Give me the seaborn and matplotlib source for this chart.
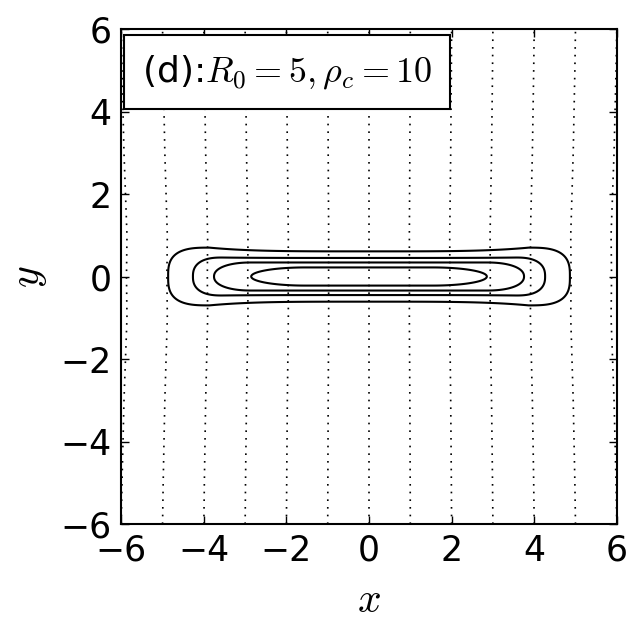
import numpy as np
import matplotlib
matplotlib.use('Agg')
import matplotlib.pyplot as plt
import seaborn as sns

# 相位线（虚点线）：远场位置 x = n，靠近 y=0 处向中心收缩
phase_n = [-6, -5, -4, -3, -2, -1, 0, 1, 2, 3, 4, 5, 6]
phase_y = [-6.0, -5.0, -4.0, -3.0, -2.0, -1.0, 0.0, 1.0, 2.0, 3.0, 4.0, 5.0, 6.0]
phase_squeeze = [0.999, 0.996, 0.992, 0.988, 0.982, 0.976, 0.978, 0.976, 0.982, 0.988, 0.992, 0.996, 0.999]

# 密度等值线（实线）：半长、端部半宽、中部半宽、端部圆角长度、形状指数
cont_halflen = [4.86, 4.26, 3.75, 2.85]
cont_halfw_end = [0.70, 0.46, 0.34, 0.22]
cont_halfw_mid = [0.61, 0.45, 0.34, 0.22]
cont_cap = [1.0, 0.7, 0.9, 1.3]
cont_power = [3.0, 2.5, 2.2, 2.0]

label_text = r'(d):$R_0=5, \rho_c=10$'

sns.set_style('ticks')
plt.rcParams['font.family'] = ['DejaVu Sans']
plt.rcParams['mathtext.fontset'] = 'cm'
for k in ['text.color', 'axes.labelcolor', 'xtick.color', 'ytick.color', 'axes.edgecolor']:
    plt.rcParams[k] = 'black'

fig = plt.figure(figsize=(6.41, 6.28), dpi=100)
ax = fig.add_axes([0.1888, 0.1656, 0.7738, 0.7882])

# 虚点线
for n in phase_n:
    xs = [n * s for s in phase_squeeze]
    sns.lineplot(x=xs, y=phase_y, sort=False, ax=ax, color='k', lw=1.2,
                 linestyle=(0, (1, 3.6)), estimator=None)

# 实线等值线
gx = np.linspace(-6, 6, 1201)
gy = np.linspace(-1.5, 1.5, 601)
X, Y = np.meshgrid(gx, gy)
for a, be, bm, r, p in zip(cont_halflen, cont_halfw_end, cont_halfw_mid, cont_cap, cont_power):
    b = bm + (be - bm) * np.clip(np.abs(X) / (a - r), 0, 1) ** 4
    F = (np.clip(np.abs(X) - (a - r), 0, None) / r) ** p + (np.abs(Y) / b) ** p
    ax.contour(X, Y, F, levels=[1.0], colors='k', linewidths=1.5)

ax.set_xlim(-6, 6)
ax.set_ylim(-6, 6)
ax.set_xticks([-6, -4, -2, 0, 2, 4, 6])
ax.set_yticks([-6, -4, -2, 0, 2, 4, 6])
ax.tick_params(direction='in', top=True, right=True, labelsize=25, length=6, width=1, pad=7)
for sp in ax.spines.values():
    sp.set_linewidth(1.5)
ax.set_xlabel(r'$x$', fontsize=30, labelpad=8)
ax.set_ylabel(r'$y$', fontsize=30, labelpad=8)

ax.text(0.042, 0.952, label_text, transform=ax.transAxes, fontsize=26,
        va='top', ha='left',
        bbox=dict(boxstyle='square,pad=0.5', facecolor='white', edgecolor='k', lw=1.5))

fig.savefig('out.png', dpi=100)
